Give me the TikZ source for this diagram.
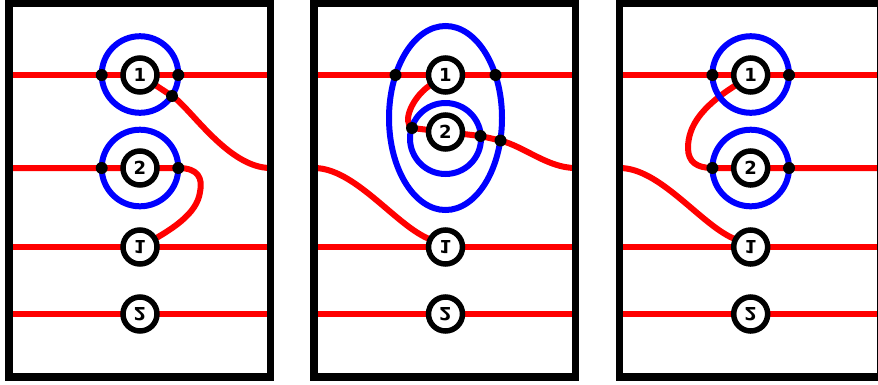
\documentclass[tikz,border=0pt]{standalone}
\usepackage{fontspec}
\usepackage{graphicx}
\setsansfont{DejaVu Sans}
\usetikzlibrary{backgrounds}
\newcommand{\vflip}[1]{\rotatebox[origin=c]{180}{\reflectbox{#1}}}
\definecolor{pred}{RGB}{255,0,0}
\definecolor{pblue}{RGB}{0,0,255}
\begin{document}
\begin{tikzpicture}[x=1pt,y=-1pt,
  frame/.style={line width=7.5pt, black, line join=miter},
  redline/.style={line width=6pt, pred},
  blueline/.style={line width=6pt, pblue},
  vtx/.style={circle, draw=black, fill=white, line width=5.5pt, minimum size=34pt, inner sep=0pt, font=\sffamily\bfseries\fontsize{18}{18}\selectfont},
  dot/.style={circle, fill=black, minimum size=12pt, inner sep=0pt}]
\useasboundingbox (0,0) rectangle (878,384);
\clip (0,0) rectangle (878,384);
% ---------- Panel 1 ----------
\node[vtx] (a1) at (140,75) {1};
\node[vtx] (a2) at (140,168) {2};
\node[vtx] (a3) at (140,247) {\vflip{1}};
\node[vtx] (a4) at (140,314) {\vflip{2}};
\coordinate (aC1) at (140,74.5);
\coordinate (aC2) at (140,168);
\node[dot] (a1l) at (101.7,75) {};
\node[dot] (a1r) at (178.3,75) {};
\node[dot] (a1d) at (172,96) {};
\node[dot] (a2l) at (101.7,168) {};
\node[dot] (a2r) at (178.3,168) {};
\coordinate (aL1) at (8.8,75);  \coordinate (aR1) at (270.5,75);
\coordinate (aL2) at (8.8,168); \coordinate (aR2) at (270.5,168);
\coordinate (aL3) at (8.8,247); \coordinate (aR3) at (270.5,247);
\coordinate (aL4) at (8.8,314); \coordinate (aR4) at (270.5,314);
% ---------- Panel 2 ----------
\node[vtx] (b1) at (445.5,75) {1};
\node[vtx] (b2) at (445.5,132) {2};
\node[vtx] (b3) at (445.5,247) {\vflip{1}};
\node[vtx] (b4) at (445.5,314) {\vflip{2}};
\coordinate (bE) at (445.5,118);
\coordinate (bC2) at (445.5,138.5);
\node[dot] (b1l) at (395.5,75) {};
\node[dot] (b1r) at (495.5,75) {};
\node[dot] (b2l) at (412,128) {};
\node[dot] (b2r) at (480.5,136) {};
\node[dot] (b2rr) at (500.5,140.5) {};
\coordinate (bL1) at (314.2,75);  \coordinate (bR1) at (575.5,75);
\coordinate (bL2) at (314.2,168); \coordinate (bR2) at (575.5,168);
\coordinate (bL3) at (314.2,247); \coordinate (bR3) at (575.5,247);
\coordinate (bL4) at (314.2,314); \coordinate (bR4) at (575.5,314);
% ---------- Panel 3 ----------
\node[vtx] (c1) at (750.7,75) {1};
\node[vtx] (c2) at (750.7,168) {2};
\node[vtx] (c3) at (750.7,247) {\vflip{1}};
\node[vtx] (c4) at (750.7,314) {\vflip{2}};
\coordinate (cC1) at (750.7,74.5);
\coordinate (cC2) at (750.7,168);
\node[dot] (c1l) at (712.4,75) {};
\node[dot] (c1r) at (789,75) {};
\node[dot] (c2l) at (712.4,168) {};
\node[dot] (c2r) at (789,168) {};
\coordinate (cL1) at (619.7,75);  \coordinate (cR1) at (881.2,75);
\coordinate (cL2) at (619.7,168); \coordinate (cR2) at (881.2,168);
\coordinate (cL3) at (619.7,247); \coordinate (cR3) at (881.2,247);
\coordinate (cL4) at (619.7,314); \coordinate (cR4) at (881.2,314);
% ---------- lines behind ----------
\begin{scope}[on background layer]
  % panel 1
  \draw[redline] (aL1) -- (aR1);
  \draw[redline] (aL3) -- (aR3);
  \draw[redline] (aL4) -- (aR4);
  \draw[redline] (aL2) -- (a2r.center) .. controls (198,168) and (203,178) .. (200,192)
        .. controls (197,214) and (172,230) .. (a3.center);
  \draw[redline] (a1.center) -- (a1d.center) .. controls (190,107) and (228,168) .. (aR2);
  \draw[blueline] (aC1) circle[radius=38.3pt];
  \draw[blueline] (aC2) circle[radius=38.3pt];
  % panel 2
  \draw[redline] (bL1) -- (bR1);
  \draw[redline] (bL3) -- (bR3);
  \draw[redline] (bL4) -- (bR4);
  \draw[redline] (b1.center) -- (429,86) .. controls (412,98) and (402,122) .. (b2l.center)
        -- (b2r.center) -- (b2rr.center) .. controls (525,147) and (548,168) .. (bR2);
  \draw[redline] (bL2) .. controls (354,168) and (394,223) .. (427,238) -- (b3.center);
  \draw[blueline] (bE) circle[x radius=56.5pt, y radius=92pt];
  \draw[blueline] (bC2) circle[radius=35.5pt];
  % panel 3
  \draw[redline] (cL1) -- (cR1);
  \draw[redline] (cL3) -- (cR3);
  \draw[redline] (cL4) -- (cR4);
  \draw[redline] (c1.center) -- (733,87) .. controls (702,107) and (688,126) .. (688,148)
        .. controls (688,162) and (697,168) .. (c2l.center) -- (cR2);
  \draw[redline] (cL2) .. controls (659.5,168) and (699.5,223) .. (732.5,238) -- (c3.center);
  \draw[blueline] (cC1) circle[radius=38.3pt];
  \draw[blueline] (cC2) circle[radius=38.3pt];
\end{scope}
% ---------- frames ----------
\draw[frame] (8.8,3) rectangle (270.5,377);
\draw[frame] (314.2,3) rectangle (575.5,377);
\draw[frame] (619.7,3) rectangle (881.2,377);
\end{tikzpicture}
\end{document}
